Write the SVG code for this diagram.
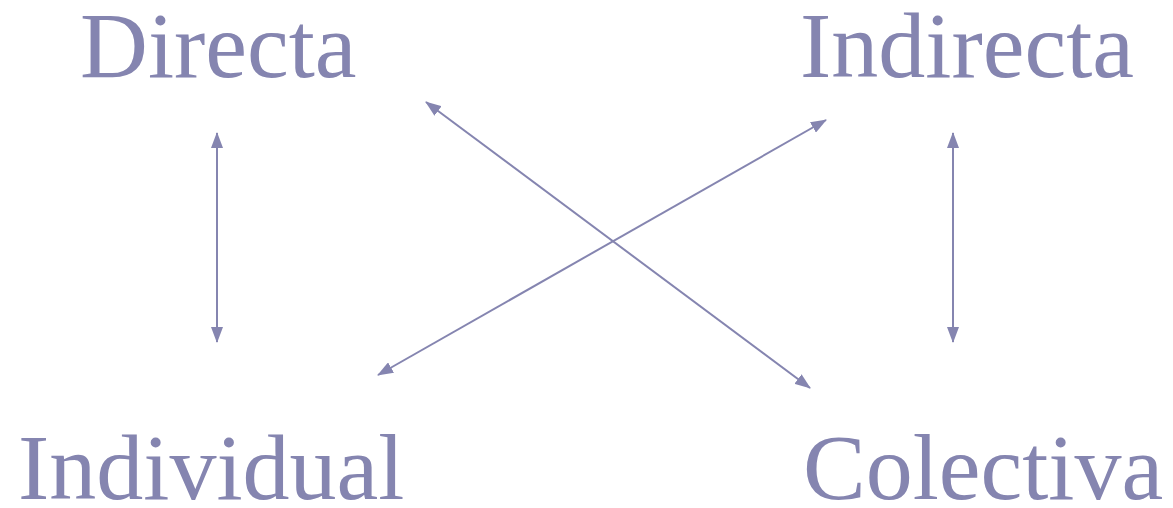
<svg xmlns="http://www.w3.org/2000/svg" width="1173" height="508" viewBox="0 0 1173 508">
<style>
text{font-family:"Liberation Serif","Times New Roman",serif;font-size:94px;fill:#8585B0}
.c line{stroke:#8585B0;stroke-width:2;fill:none}
</style>
<defs>
<marker id="a" viewBox="0 0 16 12" refX="15" refY="6" markerWidth="16" markerHeight="12" markerUnits="userSpaceOnUse" orient="auto-start-reverse"><path d="M0,0L16,6L0,12z" fill="#8585B0"/></marker>
</defs>
<g id="n1"><text x="80" y="77">Directa</text></g>
<g id="n2"><text x="800" y="77">Indirecta</text></g>
<g id="n3"><text x="18" y="499">Individual</text></g>
<g id="n4"><text x="803" y="499">Colectiva</text></g>
<g class="c">
<line x1="217" y1="133" x2="217" y2="342" marker-start="url(#a)" marker-end="url(#a)"/>
<line x1="953" y1="133" x2="953" y2="342" marker-start="url(#a)" marker-end="url(#a)"/>
<line x1="426" y1="102" x2="810" y2="388" marker-start="url(#a)" marker-end="url(#a)"/>
<line x1="826" y1="120" x2="378" y2="375" marker-start="url(#a)" marker-end="url(#a)"/>
</g>
</svg>
